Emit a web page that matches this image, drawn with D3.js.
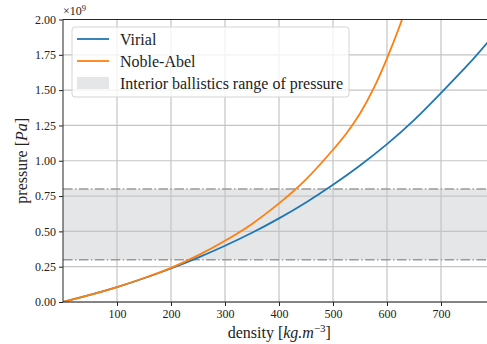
<!DOCTYPE html>
<html>
<head>
<meta charset="utf-8">
<script src="https://cdn.jsdelivr.net/npm/d3@7"></script>
<style>
  body { margin: 0; background: #fff; }
  text { font-family: "Liberation Serif", "Times New Roman", serif; fill: #222; }
</style>
</head>
<body>
<svg id="chart" width="487" height="344"></svg>
<script>
// density [kg/m3] sample points
var density = [0, 50, 100, 150, 200, 250, 300, 350, 400, 450, 500, 550, 600, 650, 700, 750, 790];
// pressure in units of 1e9 Pa
var virial = [0, 0.050, 0.105, 0.168, 0.237, 0.314, 0.398, 0.490, 0.592, 0.705, 0.830, 0.967, 1.118, 1.288, 1.480, 1.680, 1.855];
var nobleDensity = [0, 50, 100, 150, 200, 250, 300, 350, 400, 450, 500, 525, 550, 575, 600, 625, 640];
var nobleAbel = [0, 0.050, 0.106, 0.170, 0.242, 0.330, 0.434, 0.553, 0.698, 0.868, 1.078, 1.195, 1.335, 1.51, 1.725, 1.97, 2.14];
var bandRange = [0.3, 0.8];
var xTicks = [100, 200, 300, 400, 500, 600, 700];
var yTicks = [0, 0.25, 0.5, 0.75, 1.0, 1.25, 1.5, 1.75, 2.0];
var legendLabels = ["Virial", "Noble-Abel", "Interior ballistics range of pressure"];

var svg = d3.select("#chart"),
    pLeft = 63, pTop = 19.5, pBottom = 302,
    x = d3.scaleLinear().domain([0, 790]).range([pLeft, pLeft + 790 * 0.54]),
    y = d3.scaleLinear().domain([0, 2]).range([pBottom, pTop]),
    pRight = x.range()[1],
    blue = "#1f77b4", orange = "#ff7f0e", bandColor = "#e5e6e8";

svg.append("defs").append("clipPath").attr("id", "plot")
  .append("rect").attr("x", pLeft).attr("y", pTop)
  .attr("width", pRight - pLeft).attr("height", pBottom - pTop);

// shaded band
svg.append("rect")
  .attr("x", pLeft).attr("width", pRight - pLeft)
  .attr("y", y(bandRange[1])).attr("height", y(bandRange[0]) - y(bandRange[1]))
  .attr("fill", bandColor);

// grid
var grid = svg.append("g").attr("stroke", "#c4c4c4").attr("stroke-width", 1.2);
grid.selectAll(".gx").data(xTicks).enter().append("line")
  .attr("x1", function (d) { return x(d); }).attr("x2", function (d) { return x(d); })
  .attr("y1", pTop).attr("y2", pBottom);
grid.selectAll(".gy").data(yTicks).enter().append("line")
  .attr("y1", function (d) { return y(d); }).attr("y2", function (d) { return y(d); })
  .attr("x1", pLeft).attr("x2", pRight);

// band edges, dash-dot
svg.selectAll(".edge").data(bandRange).enter().append("line")
  .attr("x1", pLeft).attr("x2", pRight)
  .attr("y1", function (d) { return y(d); }).attr("y2", function (d) { return y(d); })
  .attr("stroke", "#9a9a9a").attr("stroke-width", 1.5)
  .attr("stroke-dasharray", "9.6,2.4,1.5,2.4");

var line = d3.line()
  .x(function (d) { return x(d[0]); })
  .y(function (d) { return y(d[1]); })
  .curve(d3.curveNatural);

var curves = svg.append("g").attr("clip-path", "url(#plot)").attr("fill", "none").attr("stroke-width", 1.8);
curves.append("path").attr("d", line(d3.zip(density, virial))).attr("stroke", blue);
curves.append("path").attr("d", line(d3.zip(nobleDensity, nobleAbel))).attr("stroke", orange);

// axes
var xAxis = svg.append("g").attr("transform", "translate(0," + pBottom + ")")
  .call(d3.axisBottom(x).tickValues(xTicks).tickSize(4).tickPadding(3));
var yAxis = svg.append("g").attr("transform", "translate(" + pLeft + ",0)")
  .call(d3.axisLeft(y).tickValues(yTicks).tickFormat(d3.format(".2f")).tickSize(4).tickPadding(3));
[xAxis, yAxis].forEach(function (a) {
  a.select(".domain").remove();
  a.selectAll("line").attr("stroke", "#222");
  a.selectAll("text").style("font-family", "Liberation Serif").style("font-size", "12px").attr("fill", "#222");
});

// frame
svg.append("path")
  .attr("d", "M" + pLeft + "," + pBottom + "V" + pTop + "H" + pRight + "M" + pLeft + "," + pBottom + "H" + pRight)
  .attr("fill", "none").attr("stroke", "#262626").attr("stroke-width", 1);

// offset text
var off = svg.append("text").attr("x", pLeft).attr("y", 15).style("font-size", "12px");
off.append("tspan").text("\u00d710");
off.append("tspan").attr("dy", -4).style("font-size", "8.5px").text("9");

// axis labels
var xl = svg.append("text").attr("x", (pLeft + pRight) / 2 + 3).attr("y", 338)
  .attr("text-anchor", "middle").style("font-size", "16px");
xl.append("tspan").text("density [");
xl.append("tspan").style("font-style", "italic").text("kg.m");
xl.append("tspan").attr("dy", -6).style("font-size", "11px").text("\u22123");
xl.append("tspan").attr("dy", 6).text("]");

var yl = svg.append("text").attr("transform", "translate(27," + ((pTop + pBottom) / 2) + ") rotate(-90)")
  .attr("text-anchor", "middle").style("font-size", "16px");
yl.append("tspan").text("pressure [");
yl.append("tspan").style("font-style", "italic").text("Pa");
yl.append("tspan").text("]");

// legend
var lg = svg.append("g");
lg.append("rect").attr("x", 72).attr("y", 27).attr("width", 277).attr("height", 70)
  .attr("rx", 3).attr("fill", "#fff").attr("fill-opacity", 0.8)
  .attr("stroke", "#d4d4d4").attr("stroke-width", 1);
var rows = [39, 61, 83];
lg.selectAll(".ll").data([blue, orange]).enter().append("line")
  .attr("x1", 77).attr("x2", 109)
  .attr("y1", function (d, i) { return rows[i]; }).attr("y2", function (d, i) { return rows[i]; })
  .attr("stroke", function (d) { return d; }).attr("stroke-width", 1.8);
lg.append("rect").attr("x", 77).attr("y", 77).attr("width", 32).attr("height", 12).attr("fill", bandColor);
lg.selectAll(".lt").data(legendLabels).enter().append("text")
  .attr("x", 120).attr("y", function (d, i) { return rows[i] + 5.5; })
  .style("font-size", "16px").text(function (d) { return d; });
</script>
</body>
</html>
